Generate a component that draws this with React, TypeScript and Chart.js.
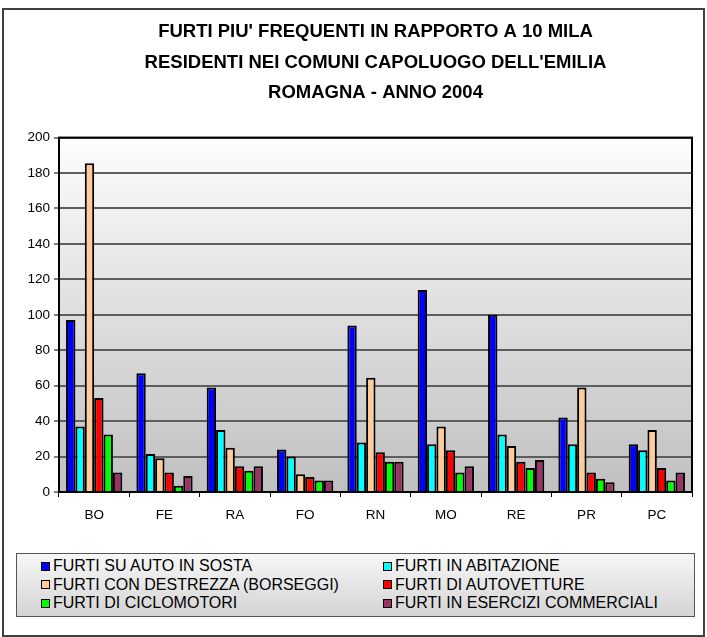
import React, { useEffect, useRef } from "react";
import { Chart, registerables } from "chart.js";

Chart.register(...registerables);

const titleLines = [
  "FURTI PIU' FREQUENTI IN RAPPORTO A 10 MILA",
  "RESIDENTI NEI COMUNI CAPOLUOGO DELL'EMILIA",
  "ROMAGNA - ANNO 2004",
];

const categories = ["BO", "FE", "RA", "FO", "RN", "MO", "RE", "PR", "PC"];

const seriesNames = [
  "FURTI SU AUTO IN SOSTA",
  "FURTI IN ABITAZIONE",
  "FURTI CON DESTREZZA (BORSEGGI)",
  "FURTI DI AUTOVETTURE",
  "FURTI DI CICLOMOTORI",
  "FURTI IN ESERCIZI COMMERCIALI",
];

const seriesColors = ["#0000FF", "#00FFFF", "#FFCC99", "#FF0000", "#00FF00", "#993366"];

const autoInSosta = [97, 67, 59, 24, 94, 114, 100, 42, 27];
const abitazione = [37, 21.5, 35, 20, 28, 27, 32.5, 27, 23.5];
const destrezza = [185.5, 19, 25, 10, 64.5, 37, 26, 59, 35];
const autovetture = [53, 11, 14.5, 8.5, 22.5, 23.5, 17, 11, 13.5];
const ciclomotori = [32.5, 3.5, 12, 6.5, 17, 11, 13.5, 7.5, 6.5];
const esercizi = [11, 9, 14.5, 6.5, 17, 14.5, 18, 5.5, 11];

const seriesValues = [autoInSosta, abitazione, destrezza, autovetture, ciclomotori, esercizi];

const yMin = 0;
const yMax = 200;
const yStep = 20;

const FONT = 'Arial, "Liberation Sans", sans-serif';

const framePlugin = {
  id: "frame",
  beforeDraw(chart: any) {
    const { ctx, chartArea: a, width, height } = chart;
    ctx.save();
    ctx.fillStyle = "#ffffff";
    ctx.fillRect(0, 0, width, height);
    const g = ctx.createLinearGradient(0, a.top, 0, a.bottom);
    g.addColorStop(0, "#fdfdfd");
    g.addColorStop(1, "#c0c0c0");
    ctx.fillStyle = g;
    ctx.fillRect(a.left, a.top, a.right - a.left, a.bottom - a.top);
    ctx.restore();
  },
  afterDraw(chart: any) {
    const { ctx, chartArea: a } = chart;
    ctx.save();
    ctx.strokeStyle = "#000000";
    ctx.lineWidth = 2;
    ctx.strokeRect(a.left, a.top, a.right - a.left, a.bottom - a.top);
    ctx.strokeStyle = "#404040";
    ctx.lineWidth = 2;
    ctx.strokeRect(3, 9, 701, 627);
    ctx.restore();
  },
};

export default function App() {
  const canvasRef = useRef<HTMLCanvasElement | null>(null);

  useEffect(() => {
    if (!canvasRef.current) return;
    const chart = new Chart(canvasRef.current, {
      type: "bar",
      data: {
        labels: categories,
        datasets: seriesNames.map((name, i) => ({
          label: name,
          data: seriesValues[i],
          backgroundColor: seriesColors[i],
          borderColor: "#000000",
          borderWidth: 2,
          categoryPercentage: 0.8,
          barPercentage: 1.0,
        })),
      },
      options: {
        animation: false,
        responsive: false,
        maintainAspectRatio: false,
        layout: { padding: { left: 0, right: 15, top: 0, bottom: 111 } },
        plugins: {
          legend: { display: false },
          tooltip: { enabled: false },
          title: {
            display: true,
            fullSize: false,
            text: titleLines,
            color: "#000000",
            font: { family: FONT, size: 18.5, weight: "bold", lineHeight: 1.65 },
            padding: { top: 17, bottom: 29 },
          },
        },
        scales: {
          x: {
            grid: {
              display: true,
              drawOnChartArea: false,
              offset: true,
              tickLength: 5,
              color: "#000000",
              lineWidth: 1,
            },
            border: { display: false },
            ticks: { color: "#000000", font: { family: FONT, size: 13.5 }, padding: 10 },
            afterFit: (s: any) => {
              s.height = 34;
            },
          },
          y: {
            min: yMin,
            max: yMax,
            ticks: {
              stepSize: yStep,
              color: "#000000",
              font: { family: FONT, size: 13.5 },
              padding: 4,
            },
            grid: { color: "#5e5e5e", lineWidth: 2, tickLength: 5, tickColor: "#000000", tickWidth: 1 },
            border: { display: false },
            afterFit: (s: any) => {
              s.width = 59;
            },
          },
        },
      },
      plugins: [framePlugin],
    });
    return () => chart.destroy();
  }, []);

  const rows: number[][] = [
    [0, 1],
    [2, 3],
    [4, 5],
  ];

  return (
    <div style={{ position: "absolute", left: 0, top: 0, width: 707, height: 637 }}>
      <canvas ref={canvasRef} width={707} height={637} style={{ display: "block" }} />
      <div
        style={{
          position: "absolute",
          left: 16,
          top: 553,
          width: 679,
          height: 64,
          border: "1px solid #555",
          background: "linear-gradient(#f7f7f7, #d4d4d4)",
          boxSizing: "border-box",
          fontFamily: FONT,
          fontSize: 16,
          color: "#000",
        }}
      >
        {rows.map((r, ri) =>
          r.map((idx, ci) => (
            <div
              key={idx}
              style={{
                position: "absolute",
                left: ci === 0 ? 24 : 366,
                top: 3 + ri * 18.5,
                height: 18.5,
                display: "flex",
                alignItems: "center",
                whiteSpace: "nowrap",
              }}
            >
              <span
                style={{
                  display: "inline-block",
                  width: 7,
                  height: 7,
                  background: seriesColors[idx],
                  border: "1px solid #000",
                  marginRight: 3,
                }}
              />
              <span>{seriesNames[idx]}</span>
            </div>
          ))
        )}
      </div>
    </div>
  );
}
